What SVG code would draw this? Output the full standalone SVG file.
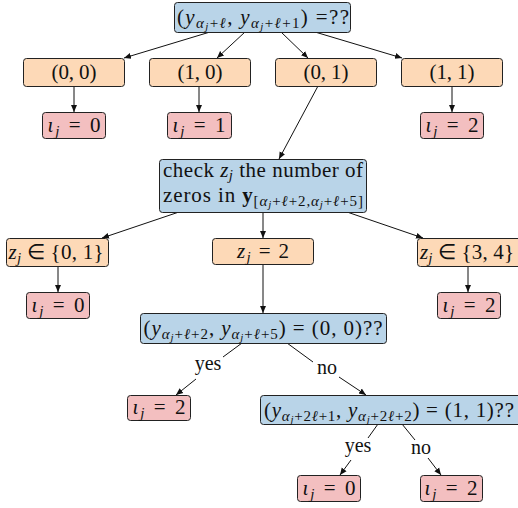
<svg xmlns="http://www.w3.org/2000/svg" width="518" height="508" viewBox="0 0 518 508" font-family="'Liberation Serif', 'Times New Roman', serif">
<style>
.b{fill:#b9d4e8;stroke:#222;stroke-width:1}
.o{fill:#fdd9b7;stroke:#222;stroke-width:1}
.r{fill:#f3bfc0;stroke:#222;stroke-width:1}
text{font-family:'Liberation Serif','Times New Roman',serif;font-size:21px;fill:#111;text-anchor:middle}
.i{font-style:italic}
.s{font-size:15px}
.ss{font-size:11px}
.bf{font-weight:bold}
.c line{stroke:#111;stroke-width:1}
.c .a{marker-end:url(#ah)}
</style>
<defs>
<marker id="ah" markerWidth="8" markerHeight="8" refX="7" refY="4" orient="auto" markerUnits="userSpaceOnUse">
<path d="M0,1 L7,4 L0,7 z" fill="#111"/>
</marker>
</defs>
<g class="c" id="connectors">
<line class="a" x1="210" y1="32" x2="124" y2="58"/>
<line class="a" x1="245" y1="32" x2="217" y2="58"/>
<line class="a" x1="281" y1="32" x2="308" y2="58"/>
<line class="a" x1="315" y1="32" x2="402" y2="58"/>
<line class="a" x1="74" y1="86" x2="74" y2="112"/>
<line class="a" x1="199" y1="86" x2="199" y2="112"/>
<line class="a" x1="452" y1="86" x2="452" y2="112"/>
<line class="a" x1="318" y1="86" x2="279" y2="159"/>
<line class="a" x1="179" y1="212" x2="102" y2="238"/>
<line class="a" x1="263" y1="212" x2="263" y2="238"/>
<line class="a" x1="347" y1="212" x2="423" y2="238"/>
<line class="a" x1="58" y1="266" x2="58" y2="292"/>
<line class="a" x1="468" y1="266" x2="468" y2="292"/>
<line class="a" x1="263" y1="264" x2="263" y2="313"/>
<line x1="242" y1="343" x2="223" y2="357"/>
<line class="a" x1="196" y1="379" x2="176" y2="395"/>
<line x1="287" y1="343" x2="313" y2="362"/>
<line class="a" x1="339" y1="377" x2="366" y2="395"/>
<line x1="378" y1="424" x2="368" y2="438"/>
<line class="a" x1="351" y1="460" x2="340" y2="475"/>
<line x1="402" y1="424" x2="415" y2="440"/>
<line class="a" x1="428" y1="458" x2="441" y2="475"/>
<text x="208" y="370" style="font-size:20px">yes</text>
<text x="327" y="374" style="font-size:20px">no</text>
<text x="358" y="452" style="font-size:20px">yes</text>
<text x="421" y="454" style="font-size:20px">no</text>
</g>
<g id="n_root">
<rect class="b" x="174.5" y="2.5" width="176" height="30" rx="3"/>
<text x="263" y="24" textLength="172" lengthAdjust="spacing">(<tspan class="i">y</tspan><tspan class="s i" dy="4">α</tspan><tspan class="ss i" dy="2">j</tspan><tspan class="s" dy="-2">+<tspan class="i">ℓ</tspan></tspan><tspan dy="-4">, </tspan><tspan class="i">y</tspan><tspan class="s i" dy="4">α</tspan><tspan class="ss i" dy="2">j</tspan><tspan class="s" dy="-2">+<tspan class="i">ℓ</tspan>+1</tspan><tspan dy="-4">) =??</tspan></text>
</g>
<g id="n_00">
<rect class="o" x="23.5" y="58.5" width="101" height="28" rx="3"/>
<text x="74" y="79" textLength="45">(0, 0)</text>
</g>
<g id="n_10">
<rect class="o" x="149.5" y="58.5" width="101" height="28" rx="3"/>
<text x="200" y="79" textLength="45">(1, 0)</text>
</g>
<g id="n_01">
<rect class="o" x="275.5" y="58.5" width="101" height="28" rx="3"/>
<text x="326" y="79" textLength="45">(0, 1)</text>
</g>
<g id="n_11">
<rect class="o" x="401.5" y="58.5" width="101" height="28" rx="3"/>
<text x="452" y="79" textLength="45">(1, 1)</text>
</g>
<g id="n_i0a">
<rect class="r" x="42.5" y="112.5" width="63" height="26" rx="3"/>
<text x="74" y="132" textLength="53"><tspan class="i">ι</tspan><tspan class="s i" dy="4">j</tspan><tspan dy="-4"> = 0</tspan></text>
</g>
<g id="n_i1">
<rect class="r" x="167.5" y="112.5" width="64" height="26" rx="3"/>
<text x="199" y="132" textLength="53"><tspan class="i">ι</tspan><tspan class="s i" dy="4">j</tspan><tspan dy="-4"> = 1</tspan></text>
</g>
<g id="n_i2a">
<rect class="r" x="420.5" y="112.5" width="63" height="26" rx="3"/>
<text x="452" y="132" textLength="53"><tspan class="i">ι</tspan><tspan class="s i" dy="4">j</tspan><tspan dy="-4"> = 2</tspan></text>
</g>
<g id="n_check">
<rect class="b" x="159.5" y="159.5" width="207" height="53" rx="3"/>
<text x="263" y="177" textLength="200">check <tspan class="i">z</tspan><tspan class="s i" dy="3">j</tspan><tspan dy="-3"> the number of</tspan></text>
<text x="263" y="202" textLength="200">zeros in <tspan class="bf">y</tspan><tspan class="s" dy="4">[<tspan class="i">α</tspan><tspan class="ss i" dy="2">j</tspan><tspan dy="-2">+<tspan class="i">ℓ</tspan>+2,</tspan><tspan class="i">α</tspan><tspan class="ss i" dy="2">j</tspan><tspan dy="-2">+<tspan class="i">ℓ</tspan>+5]</tspan></tspan></text>
</g>
<g id="n_z01">
<rect class="o" x="6.5" y="238.5" width="102" height="28" rx="3"/>
<text x="56" y="259" textLength="95"><tspan class="i">z</tspan><tspan class="s i" dy="4">j</tspan><tspan dy="-4"> ∈ {0, 1}</tspan></text>
</g>
<g id="n_z2">
<rect class="o" x="212.5" y="238.5" width="101" height="26" rx="3"/>
<text x="263" y="258" textLength="52"><tspan class="i">z</tspan><tspan class="s i" dy="4">j</tspan><tspan dy="-4"> = 2</tspan></text>
</g>
<g id="n_z34">
<rect class="o" x="417.5" y="238.5" width="104" height="28" rx="3"/>
<text x="467" y="259" textLength="94"><tspan class="i">z</tspan><tspan class="s i" dy="4">j</tspan><tspan dy="-4"> ∈ {3, 4}</tspan></text>
</g>
<g id="n_i0b">
<rect class="r" x="26.5" y="292.5" width="63" height="26" rx="3"/>
<text x="58" y="312" textLength="53"><tspan class="i">ι</tspan><tspan class="s i" dy="4">j</tspan><tspan dy="-4"> = 0</tspan></text>
</g>
<g id="n_i2b">
<rect class="r" x="437.5" y="292.5" width="63" height="26" rx="3"/>
<text x="469" y="312" textLength="53"><tspan class="i">ι</tspan><tspan class="s i" dy="4">j</tspan><tspan dy="-4"> = 2</tspan></text>
</g>
<g id="n_q00">
<rect class="b" x="140.5" y="313.5" width="246" height="30" rx="3"/>
<text x="263" y="335" textLength="239">(<tspan class="i">y</tspan><tspan class="s i" dy="4">α</tspan><tspan class="ss i" dy="2">j</tspan><tspan class="s" dy="-2">+<tspan class="i">ℓ</tspan>+2</tspan><tspan dy="-4">, </tspan><tspan class="i">y</tspan><tspan class="s i" dy="4">α</tspan><tspan class="ss i" dy="2">j</tspan><tspan class="s" dy="-2">+<tspan class="i">ℓ</tspan>+5</tspan><tspan dy="-4">) = (0, 0)??</tspan></text>
</g>
<g id="n_i2c">
<rect class="r" x="127.5" y="395.5" width="63" height="25" rx="3"/>
<text x="159" y="414" textLength="53"><tspan class="i">ι</tspan><tspan class="s i" dy="4">j</tspan><tspan dy="-4"> = 2</tspan></text>
</g>
<g id="n_q11">
<rect class="b" x="260.5" y="395.5" width="270" height="29" rx="3"/>
<text x="264" y="417" style="text-anchor:start" textLength="250">(<tspan class="i">y</tspan><tspan class="s i" dy="4">α</tspan><tspan class="ss i" dy="2">j</tspan><tspan class="s" dy="-2">+2<tspan class="i">ℓ</tspan>+1</tspan><tspan dy="-4">, </tspan><tspan class="i">y</tspan><tspan class="s i" dy="4">α</tspan><tspan class="ss i" dy="2">j</tspan><tspan class="s" dy="-2">+2<tspan class="i">ℓ</tspan>+2</tspan><tspan dy="-4">) = (1, 1)??</tspan></text>
</g>
<g id="n_i0c">
<rect class="r" x="297.5" y="475.5" width="63" height="26" rx="3"/>
<text x="329" y="495" textLength="53"><tspan class="i">ι</tspan><tspan class="s i" dy="4">j</tspan><tspan dy="-4"> = 0</tspan></text>
</g>
<g id="n_i2d">
<rect class="r" x="420.5" y="475.5" width="62" height="26" rx="3"/>
<text x="451" y="495" textLength="53"><tspan class="i">ι</tspan><tspan class="s i" dy="4">j</tspan><tspan dy="-4"> = 2</tspan></text>
</g>
</svg>
